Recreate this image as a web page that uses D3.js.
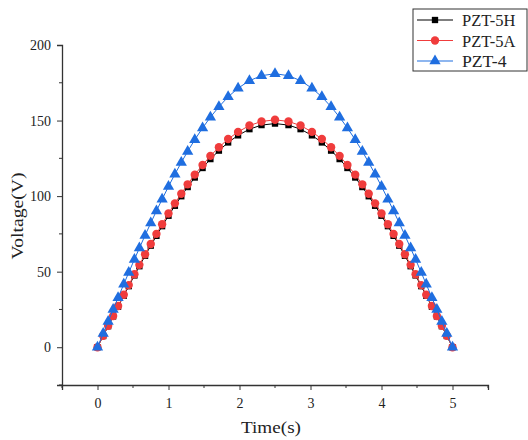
<!DOCTYPE html>
<html>
<head>
<meta charset="utf-8">
<script src="https://cdn.jsdelivr.net/npm/d3@7"></script>
<style>
  body { margin: 0; background: #fff; }
  text { font-family: "Liberation Serif", "DejaVu Serif", serif; fill: #222; }
</style>
</head>
<body>
<div id="chart"></div>
<script>
// time samples shared by all three series (s)
const times = [0, 0.08, 0.15, 0.22, 0.29, 0.37, 0.44, 0.52, 0.59, 0.67, 0.75, 0.83, 0.91, 1.0,
  1.09, 1.18, 1.27, 1.37, 1.48, 1.59, 1.71, 1.84, 1.98, 2.14, 2.31, 2.5,
  2.69, 2.86, 3.02, 3.16, 3.29, 3.41, 3.52, 3.63, 3.73, 3.82, 3.91, 4.0,
  4.09, 4.17, 4.25, 4.33, 4.41, 4.48, 4.56, 4.63, 4.71, 4.78, 4.85, 4.92, 5.0];

const pzt5h = [0, 7.4, 13.9, 20.4, 26.8, 34.1, 40.4, 47.5, 53.6, 60.5, 67.2, 73.7, 80.1, 87.0,
  93.6, 99.9, 106.0, 112.3, 118.6, 124.5, 130.1, 135.5, 140.2, 144.3, 147.0, 148.0,
  147.0, 144.3, 140.2, 135.5, 130.1, 124.5, 118.6, 112.3, 106.0, 99.9, 93.6, 87.0,
  80.1, 73.7, 67.2, 60.5, 53.6, 47.5, 40.4, 34.1, 26.8, 20.4, 13.9, 7.4, 0];

const pzt5a = [0, 7.6, 14.2, 20.7, 27.3, 34.7, 41.1, 48.3, 54.5, 61.5, 68.3, 75.0, 81.4, 88.5,
  95.2, 101.6, 107.8, 114.2, 120.6, 126.6, 132.3, 137.8, 142.5, 146.7, 149.4, 150.5,
  149.4, 146.7, 142.5, 137.8, 132.3, 126.6, 120.6, 114.2, 107.8, 101.6, 95.2, 88.5,
  81.4, 75.0, 68.3, 61.5, 54.5, 48.3, 41.1, 34.7, 27.3, 20.7, 14.2, 7.6, 0];

const pzt4 = [0, 9.1, 17.0, 24.9, 32.8, 41.7, 49.4, 58.1, 65.6, 74.0, 82.2, 90.2, 97.9, 106.4,
  114.5, 122.2, 129.6, 137.3, 145.1, 152.2, 159.1, 165.7, 171.4, 176.4, 179.7, 181.0,
  179.7, 176.4, 171.4, 165.7, 159.1, 152.2, 145.1, 137.3, 129.6, 122.2, 114.5, 106.4,
  98.0, 90.2, 82.2, 74.0, 65.6, 58.1, 49.4, 41.7, 32.8, 24.9, 17.0, 9.1, 0];

const seriesNames = ["PZT-5H", "PZT-5A", "PZT-4"];
const xTicks = [0, 1, 2, 3, 4, 5];
const yTicks = [0, 50, 100, 150, 200];

const width = 528;
const height = 440;
const margin = {top: 45, right: 40, bottom: 55, left: 62};

const series = [
  {name: seriesNames[0], values: pzt5h, color: "#000000", shape: d3.symbolSquare, size: 40},
  {name: seriesNames[1], values: pzt5a, color: "#f03c3c", shape: d3.symbolCircle, size: 55},
  {name: seriesNames[2], values: pzt4, color: "#1f6ee0", shape: d3.symbolTriangle, size: 55}
];

const x = d3.scaleLinear().domain([-0.5, 5.5]).range([margin.left, width - margin.right]);
const y = d3.scaleLinear().domain([-25, 200]).range([height - margin.bottom, margin.top]);

const svg = d3.select("#chart").append("svg")
  .attr("width", width)
  .attr("height", height);

// lines + markers
const line = d3.line().x(d => x(d[0])).y(d => y(d[1]));

series.forEach(s => {
  const pts = times.map((t, i) => [t, s.values[i]]);
  svg.append("path")
    .datum(pts)
    .attr("fill", "none")
    .attr("stroke", s.color)
    .attr("stroke-width", 1)
    .attr("d", line);
  svg.selectAll(null)
    .data(pts)
    .enter()
    .append("path")
    .attr("transform", d => `translate(${x(d[0])},${y(d[1])})`)
    .attr("d", d3.symbol().type(s.shape).size(s.size))
    .attr("fill", s.color);
});

// axes
const xAxis = svg.append("g")
  .attr("transform", `translate(0,${height - margin.bottom})`)
  .call(d3.axisBottom(x).tickValues(xTicks).tickFormat(d3.format("d")).tickSizeOuter(0).tickSize(5).tickPadding(8));
xAxis.append("g").selectAll("line")
  .data(d3.range(-0.5, 5.6, 1))
  .enter().append("line")
  .attr("x1", d => x(d)).attr("x2", d => x(d))
  .attr("y1", 0).attr("y2", 3)
  .attr("stroke", "#333");

const yAxis = svg.append("g")
  .attr("transform", `translate(${margin.left},0)`)
  .call(d3.axisLeft(y).tickValues(yTicks).tickSizeOuter(0).tickSize(5).tickPadding(6));
yAxis.append("g").selectAll("line")
  .data([-25, 25, 75, 125, 175])
  .enter().append("line")
  .attr("x1", 0).attr("x2", -3)
  .attr("y1", d => y(d)).attr("y2", d => y(d))
  .attr("stroke", "#333");

svg.selectAll(".domain").attr("stroke", "#333").attr("stroke-width", 1.3);
svg.selectAll(".tick line").attr("stroke", "#333");
svg.selectAll(".tick text").attr("font-size", 14).attr("font-family", "Liberation Serif").attr("fill", "#222");

// axis titles
svg.append("text")
  .attr("x", x(2.5) - 4)
  .attr("y", 433)
  .attr("text-anchor", "middle")
  .attr("font-size", 17)
  .attr("textLength", 60)
  .attr("lengthAdjust", "spacingAndGlyphs")
  .text("Time(s)");

svg.append("text")
  .attr("transform", "translate(23,216) rotate(-90)")
  .attr("text-anchor", "middle")
  .attr("font-size", 17)
  .attr("textLength", 87)
  .attr("lengthAdjust", "spacingAndGlyphs")
  .text("Voltage(V)");

// legend
const lg = svg.append("g").attr("transform", "translate(413,9)");
lg.append("rect")
  .attr("width", 114).attr("height", 62)
  .attr("fill", "#fff").attr("stroke", "#333").attr("stroke-width", 1);
series.forEach((s, i) => {
  const row = lg.append("g").attr("transform", `translate(0,${11 + i * 20.5})`);
  row.append("line").attr("x1", 4).attr("x2", 40).attr("stroke", s.color).attr("stroke-width", 1.2);
  row.append("path").attr("transform", "translate(22,0)")
    .attr("d", d3.symbol().type(s.shape).size(s.size)).attr("fill", s.color);
  row.append("text").attr("x", 49).attr("y", 6)
    .attr("font-size", 17)
    .attr("textLength", s.name.length * 8.9)
    .attr("lengthAdjust", "spacingAndGlyphs")
    .text(s.name);
});
</script>
</body>
</html>
